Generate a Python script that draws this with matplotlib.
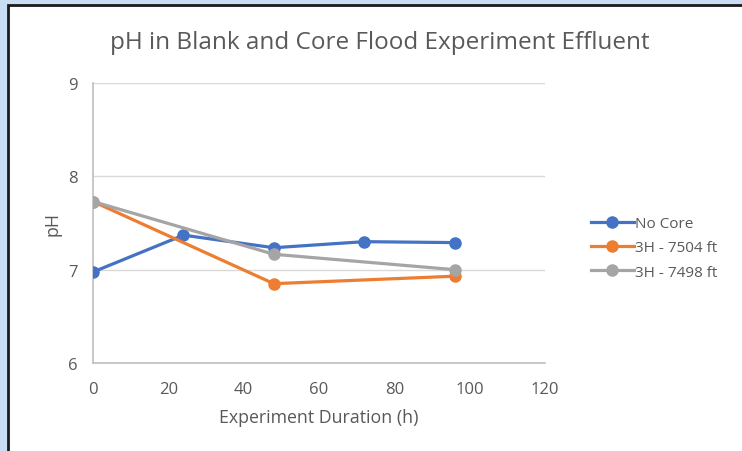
import matplotlib
matplotlib.use("Agg")
from matplotlib import pyplot as plt
from matplotlib.patches import Rectangle

plt.rcParams['font.family'] = ['Open Sans', 'DejaVu Sans']

# data
hours_no_core = [0, 24, 48, 72, 96]
ph_no_core = [6.975, 7.37, 7.235, 7.30, 7.29]
hours_cores = [0, 48, 96]
ph_7504 = [7.73, 6.85, 6.93]
ph_7498 = [7.73, 7.165, 7.0]
series_names = ["No Core", "3H - 7504 ft", "3H - 7498 ft"]
x_ticks = [0, 20, 40, 60, 80, 100, 120]
y_ticks = [6, 7, 8, 9]

W, H = 742, 452
fig = plt.figure(figsize=(W / 100, H / 100), dpi=100)
fig.patch.set_facecolor("#c9def5")

# white chart box with dark border (open to the right and bottom)
fig.patches.append(Rectangle((8 / W, -0.05), 1.0, 1.05 - 6 / H,
                             transform=fig.transFigure, facecolor="white",
                             edgecolor="#1a1a1a", linewidth=2, zorder=-5))

ax = fig.add_axes([93 / W, 1 - 364 / H, (545 - 93) / W, (364 - 84) / H])
ax.set_zorder(2)
ax.set_facecolor("white")

grey_txt = "#595959"
ax.plot(hours_no_core, ph_no_core, color="#4472C4", marker="o", markersize=8,
        linewidth=2.3, label=series_names[0], zorder=3)
ax.plot(hours_cores, ph_7504, color="#ED7D31", marker="o", markersize=8,
        linewidth=2.3, label=series_names[1], zorder=3)
ax.plot(hours_cores, ph_7498, color="#A5A5A5", marker="o", markersize=8,
        linewidth=2.3, label=series_names[2], zorder=4)

ax.set_xlim(0, 120)
ax.set_ylim(6, 9)
ax.set_xticks(x_ticks)
ax.set_yticks(y_ticks)
ax.grid(axis="y", color="#d9d9d9", linewidth=1)
ax.set_axisbelow(True)
for s in ["top", "right"]:
    ax.spines[s].set_visible(False)
for s in ["left", "bottom"]:
    ax.spines[s].set_color("#bfbfbf")
    ax.spines[s].set_linewidth(1.2)
ax.tick_params(length=0, labelsize=12, labelcolor=grey_txt)
ax.tick_params(axis="x", pad=13)
ax.tick_params(axis="y", pad=11)

ax.set_xlabel("Experiment Duration (h)", fontsize=12.8, color=grey_txt, labelpad=8)
ax.set_ylabel("pH", fontsize=12.8, color=grey_txt, labelpad=5)

fig.text(380 / W, 1 - 43 / H, "pH in Blank and Core Flood Experiment Effluent",
         ha="center", va="center", fontsize=17.5, color=grey_txt)

ax.legend(loc="center left", bbox_to_anchor=(577 / W, 1 - 249 / H),
          bbox_transform=fig.transFigure, frameon=False, fontsize=11,
          labelcolor=grey_txt, handlelength=2.8, handletextpad=0.1,
          labelspacing=0.6)

fig.savefig("out.png", dpi=100, facecolor=fig.get_facecolor())
